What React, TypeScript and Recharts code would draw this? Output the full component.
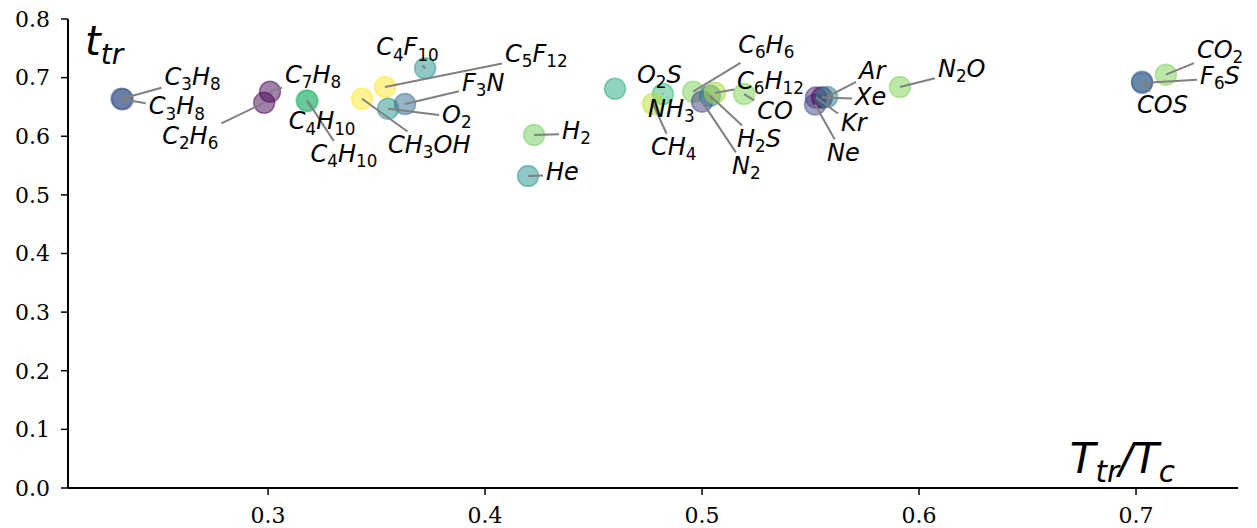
import React from 'react';
import { ScatterChart, Scatter, XAxis, YAxis } from 'recharts';

// gas formulas, written with "_" for subscripts
const GASES = [
  'C_3H_8', 'C_3H_8', 'C_7H_8', 'C_2H_6', 'C_4H_10', 'C_4H_10', 'CH_3OH', 'C_5F_12',
  'C_4F_10', 'O_2', 'F_3N', 'H_2', 'He', 'NH_3', 'O_2S', 'CH_4', 'C_6H_6', 'N_2',
  'H_2S', 'C_6H_12', 'CO', 'Kr', 'Ne', 'Xe', 'Ar', 'N_2O', 'CO_2', 'F_6S', 'COS',
];

// reduced triple point temperature T_tr / T_c
const T_RATIO = [
  0.2325, 0.2330, 0.3009, 0.2982, 0.3178, 0.3182, 0.3433, 0.3539,
  0.3724, 0.3553, 0.3631, 0.4226, 0.4198, 0.4599, 0.4820, 0.4774, 0.4959, 0.5000,
  0.5037, 0.5060, 0.5194, 0.5525, 0.5521, 0.5553, 0.5576, 0.5912, 0.7138, 0.7028, 0.7028,
];

// t_tr values
const T_TR = [
  0.664, 0.663, 0.676, 0.657, 0.661, 0.660, 0.664, 0.684,
  0.716, 0.647, 0.655, 0.602, 0.532, 0.681, 0.672, 0.655, 0.676, 0.659,
  0.669, 0.674, 0.672, 0.666, 0.654, 0.666, 0.667, 0.684, 0.705, 0.691, 0.693,
];

const X_TICKS = [0.3, 0.4, 0.5, 0.6, 0.7];
const Y_TICKS = [0, 0.1, 0.2, 0.3, 0.4, 0.5, 0.6, 0.7, 0.8];

// viridis colours per gas
const COLORS = [
  '#3b528b', '#3b528b', '#440154', '#440154', '#35b779', '#35b779', '#fde725', '#fde725',
  '#21918c', '#21918c', '#31688e', '#6ece58', '#21918c', '#22a884', '#35b779', '#b5de2b', '#7ad151', '#443983',
  '#2a788e', '#a0da39', '#7ad151', '#482878', '#414487', '#440154', '#26828e', '#7ad151', '#7ad151', '#3b528b', '#31688e',
];

// label placement: pixel offset of the text baseline start from the marker, and whether a leader is drawn
const LABEL_OFFSETS: [number, number, boolean][] = [
  [43, -14, true], [26, 15, true], [15, -9, true], [-102, 41, true], [-18, 29, true], [3, 61, true], [26, 54, true], [120, -25, true],
  [-49, -13, true], [54, 14, true], [57, -13, true], [28, 4, true], [18, 4, true], [33, 28, false], [-26, -11, true], [-2, 51, true], [45, -39, true], [30, 72, true],
  [27, 51, true], [22, -4, true], [13, 25, true], [25, 33, true], [12, 56, true], [33, 7, true], [32, -18, true], [38, -10, true], [31, -17, true], [58, 1, true], [-5, 31, true],
];

const X_DOMAIN = [0.2078, 0.747];
const LABEL_SIZE = 24;

const points = GASES.map((name, i) => ({
  name,
  x: T_RATIO[i],
  y: T_TR[i],
  color: COLORS[i],
  dx: LABEL_OFFSETS[i][0],
  dy: LABEL_OFFSETS[i][1],
  leader: LABEL_OFFSETS[i][2],
}));

type Seg = { text: string; sub: boolean };

function parseFormula(src: string): Seg[] {
  const segs: Seg[] = [];
  let i = 0;
  while (i < src.length) {
    if (src[i] === '_') {
      if (src[i + 1] === '{') {
        const j = src.indexOf('}', i);
        segs.push({ text: src.slice(i + 2, j), sub: true });
        i = j + 1;
      } else {
        let j = i + 1;
        while (j < src.length && /\d/.test(src[j])) j++;
        segs.push({ text: src.slice(i + 1, j), sub: true });
        i = j;
      }
    } else {
      let j = i;
      while (j < src.length && src[j] !== '_') j++;
      segs.push({ text: src.slice(i, j), sub: false });
      i = j;
    }
  }
  return segs;
}

// rough DejaVu Sans advance widths (em)
const ADV: Record<string, number> = {
  C: 0.698, H: 0.752, O: 0.787, F: 0.575, N: 0.748, S: 0.635, A: 0.684, K: 0.656, X: 0.685,
  T: 0.611, r: 0.411, e: 0.615, t: 0.392, c: 0.55, '/': 0.337,
};

function formulaWidth(src: string, size: number) {
  return parseFormula(src).reduce(
    (w, s) => w + [...s.text].reduce((a, ch) => a + (ADV[ch] ?? 0.636), 0) * size * (s.sub ? 0.7 : 1),
    0,
  );
}

const Formula = ({ x, y, src, size, anchor = 'start' }: { x: number; y: number; src: string; size: number; anchor?: 'start' | 'end' }) => {
  const shift = size * 0.22;
  let level = 0;
  const spans: React.ReactNode[] = [];
  parseFormula(src).forEach((seg, si) => {
    const target = seg.sub ? shift : 0;
    [...seg.text].forEach((ch, ci) => {
      const dy = target - level;
      level = target;
      spans.push(
        <tspan
          key={`${si}-${ci}`}
          dy={dy}
          fontSize={seg.sub ? size * 0.7 : size}
          fontStyle={/\d/.test(ch) ? 'normal' : 'italic'}
        >
          {ch}
        </tspan>,
      );
    });
  });
  return (
    <text x={x} y={y} textAnchor={anchor} fontFamily="DejaVu Sans" fill="#000">
      {spans}
    </text>
  );
};

const renderMarker = (props: any) => {
  const { cx, cy, payload } = props;
  return (
    <circle
      cx={cx}
      cy={cy}
      r={10.5}
      fill={payload.color}
      fillOpacity={0.5}
      stroke={payload.color}
      strokeOpacity={0.5}
      strokeWidth={1.5}
    />
  );
};

// leader from the marker centre towards the label centre, stopped at the label box
const renderLeader = (props: any) => {
  const { cx, cy, payload } = props;
  if (!payload.leader) return <g />;
  const tx = cx + payload.dx;
  const ty = cy + payload.dy;
  const w = formulaWidth(payload.name, LABEL_SIZE);
  const left = tx - 3;
  const right = tx + w + 3;
  const top = ty - 0.76 * LABEL_SIZE - 3;
  const bottom = ty + 0.3 * LABEL_SIZE + 3;
  const mx = (left + right) / 2;
  const my = (top + bottom) / 2;
  const slab = (p: number, lo: number, hi: number, c: number) =>
    p < lo ? (lo - p) / (c - p) : p > hi ? (p - hi) / (p - c) : 0;
  const t = Math.max(slab(cx, left, right, mx), slab(cy, top, bottom, my));
  if (t <= 0) return <g />;
  return (
    <line
      x1={cx}
      y1={cy}
      x2={cx + t * (mx - cx)}
      y2={cy + t * (my - cy)}
      stroke="#808080"
      strokeWidth={2}
    />
  );
};

const renderLabel = (props: any) => {
  const { cx, cy, payload } = props;
  return <Formula x={cx + payload.dx} y={cy + payload.dy} src={payload.name} size={LABEL_SIZE} />;
};

const tickStyle = { fill: '#000', fontSize: 22, fontFamily: 'DejaVu Serif' };

export default function App() {
  return (
    <div>
      <style>{'html,body{margin:0;overflow:hidden;background:#fff}'}</style>
      <ScatterChart width={1257} height={528} margin={{ top: 19, right: 19, bottom: 0, left: 0 }}>
        <XAxis
          type="number"
          dataKey="x"
          domain={X_DOMAIN}
          ticks={X_TICKS}
          height={40}
          tickSize={7}
          tickMargin={12}
          tickFormatter={(v: number) => v.toFixed(1)}
          axisLine={{ stroke: '#000', strokeWidth: 2 }}
          tickLine={{ stroke: '#000', strokeWidth: 1.5 }}
          tick={tickStyle}
          label={{
            content: (p: any) => (
              <Formula
                x={p.viewBox.x + p.viewBox.width - 63}
                y={p.viewBox.y - 15}
                src="T_{tr}/T_{c}"
                size={42}
                anchor="end"
              />
            ),
          }}
        />
        <YAxis
          type="number"
          dataKey="y"
          domain={[0, 0.8]}
          ticks={Y_TICKS}
          width={68}
          tickSize={7}
          tickMargin={11}
          tickFormatter={(v: number) => v.toFixed(1)}
          axisLine={{ stroke: '#000', strokeWidth: 2 }}
          tickLine={{ stroke: '#000', strokeWidth: 1.5 }}
          tick={tickStyle}
          label={{
            content: (p: any) => (
              <Formula x={p.viewBox.x + p.viewBox.width + 17} y={p.viewBox.y + 36} src="t_{tr}" size={40} />
            ),
          }}
        />
        <Scatter data={points} shape={renderMarker} isAnimationActive={false} />
        <Scatter data={points} shape={renderLeader} isAnimationActive={false} />
        <Scatter data={points} shape={renderLabel} isAnimationActive={false} />
      </ScatterChart>
    </div>
  );
}
